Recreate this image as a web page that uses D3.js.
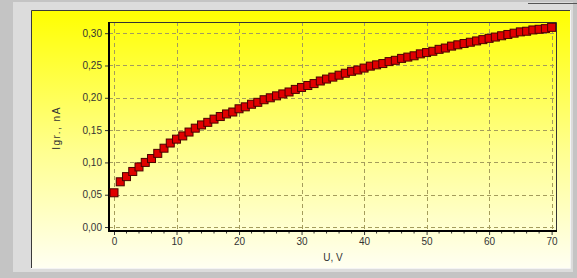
<!DOCTYPE html>
<html>
<head>
<meta charset="utf-8">
<script src="https://cdn.jsdelivr.net/npm/d3@7"></script>
<style>
  body { margin: 0; background: #c0c0c0; }
  svg { display: block; font-family: Arial, "Liberation Sans", sans-serif; }
</style>
</head>
<body>
<svg id="chart"></svg>
<script>
// U, V
const voltage = d3.range(0, 71);
// I gr., nA
const current = [
  0.053, 0.070, 0.078, 0.086, 0.093, 0.100, 0.106, 0.114, 0.122, 0.130,
  0.136, 0.141, 0.147, 0.153, 0.158, 0.162, 0.167, 0.171, 0.175, 0.178,
  0.183, 0.186, 0.190, 0.193, 0.197, 0.200, 0.203, 0.206, 0.209, 0.213,
  0.216, 0.219, 0.222, 0.226, 0.229, 0.232, 0.235, 0.238, 0.241, 0.243,
  0.246, 0.249, 0.251, 0.253, 0.256, 0.258, 0.261, 0.263, 0.265, 0.268,
  0.270, 0.272, 0.275, 0.277, 0.280, 0.282, 0.284, 0.286, 0.288, 0.290,
  0.292, 0.294, 0.296, 0.298, 0.300, 0.302, 0.303, 0.305, 0.306, 0.307,
  0.309
];
const xTicks = [0, 10, 20, 30, 40, 50, 60, 70];
const xMinorTicks = d3.range(0, 71, 2);
const yTicks = [0, 0.05, 0.10, 0.15, 0.20, 0.25, 0.30];
const xLabel = 'U, V';
const yLabel = 'Igr., nA';

const width = 577;
const height = 278;

const svg = d3.select('#chart')
  .attr('width', width)
  .attr('height', height);

const defs = svg.append('defs');
const grad = defs.append('linearGradient')
  .attr('id', 'bg')
  .attr('x1', 0).attr('y1', 0).attr('x2', 0).attr('y2', 1);
grad.append('stop').attr('offset', '0%').attr('stop-color', '#ffff00');
grad.append('stop').attr('offset', '55%').attr('stop-color', '#ffff90');
grad.append('stop').attr('offset', '100%').attr('stop-color', '#fffff2');

// window frame
svg.append('rect').attr('x', 0).attr('y', 0).attr('width', width).attr('height', height).attr('fill', '#c4c4c4');
svg.append('rect').attr('x', 13).attr('y', 2).attr('width', 560).attr('height', 270).attr('fill', '#dcdcdc');
svg.append('line').attr('x1', 528).attr('x2', 577).attr('y1', 3.5).attr('y2', 3.5).attr('stroke', '#555');
svg.append('rect').attr('x', 31).attr('y', 10).attr('width', 539).attr('height', 258).attr('fill', 'url(#bg)');
svg.append('path').attr('d', 'M31.5,268V10.5H570').attr('fill', 'none').attr('stroke', '#3a3a3a');
svg.append('path').attr('d', 'M570.5,10V268.5H31').attr('fill', 'none').attr('stroke', '#f4f4f4');

const x = d3.scaleLinear().domain([-0.8, 70.7]).range([109, 556]);
const y = d3.scaleLinear().domain([-0.0046, 0.3173]).range([230, 22]);

const g = svg.append('g');

// grid
g.selectAll('.vgrid')
  .data(xTicks)
  .enter()
  .append('line')
  .attr('x1', d => Math.round(x(d)) + 0.5)
  .attr('x2', d => Math.round(x(d)) + 0.5)
  .attr('y1', 22).attr('y2', 230)
  .attr('stroke', '#a49c5c')
  .attr('stroke-dasharray', '4,3');

g.selectAll('.hgrid')
  .data(yTicks)
  .enter()
  .append('line')
  .attr('x1', 109).attr('x2', 556)
  .attr('y1', d => Math.round(y(d)) + 0.5)
  .attr('y2', d => Math.round(y(d)) + 0.5)
  .attr('stroke', '#a49c5c')
  .attr('stroke-dasharray', '4,3');

// top/right frame
g.append('path').attr('d', 'M109,22.5H556.5V231').attr('fill', 'none').attr('stroke', '#333');

// axes
const xAxis = d3.axisBottom(x).tickValues(xTicks).tickSize(4).tickPadding(3)
  .tickFormat(d3.format('d'));
const gx = g.append('g').attr('transform', 'translate(0,231)').call(xAxis);
gx.select('.domain').remove();
gx.selectAll('.tick line').attr('stroke', '#333');
gx.selectAll('text').attr('fill', '#333').attr('font-size', 10);

g.append('g').selectAll('line')
  .data(xMinorTicks.filter(d => xTicks.indexOf(d) < 0))
  .enter()
  .append('line')
  .attr('x1', d => x(d)).attr('x2', d => x(d))
  .attr('y1', 231).attr('y2', 233.5)
  .attr('stroke', '#333');

const yAxis = d3.axisLeft(y).tickValues(yTicks).tickSize(4).tickPadding(3)
  .tickFormat(d => d3.format('.2f')(d).replace('.', ','));
const gy = g.append('g').attr('transform', 'translate(109,0)').call(yAxis);
gy.select('.domain').remove();
gy.selectAll('.tick line').attr('stroke', '#333');
gy.selectAll('text').attr('fill', '#333').attr('font-size', 10);

g.append('line').attr('x1', 108).attr('x2', 557).attr('y1', 231).attr('y2', 231)
  .attr('stroke', '#000').attr('stroke-width', 2);
g.append('line').attr('x1', 109).attr('x2', 109).attr('y1', 22).attr('y2', 232)
  .attr('stroke', '#000').attr('stroke-width', 2);

// labels
svg.append('text')
  .attr('x', 333).attr('y', 261)
  .attr('text-anchor', 'middle')
  .attr('font-size', 10)
  .attr('fill', '#333')
  .text(xLabel);

svg.append('text')
  .attr('transform', 'translate(60,128) rotate(-90)')
  .attr('text-anchor', 'middle')
  .attr('font-size', 10)
  .attr('letter-spacing', 1.5)
  .attr('fill', '#333')
  .text(yLabel);

// markers
const pts = voltage.map((u, i) => ({ u: u, v: current[i] }));
g.selectAll('.pt')
  .data(pts)
  .enter()
  .append('rect')
  .attr('x', d => x(d.u) - 4)
  .attr('y', d => y(d.v) - 4)
  .attr('width', 8)
  .attr('height', 8)
  .attr('fill', '#e00000')
  .attr('stroke', '#4a0000')
  .attr('stroke-width', 1);
</script>
</body>
</html>
